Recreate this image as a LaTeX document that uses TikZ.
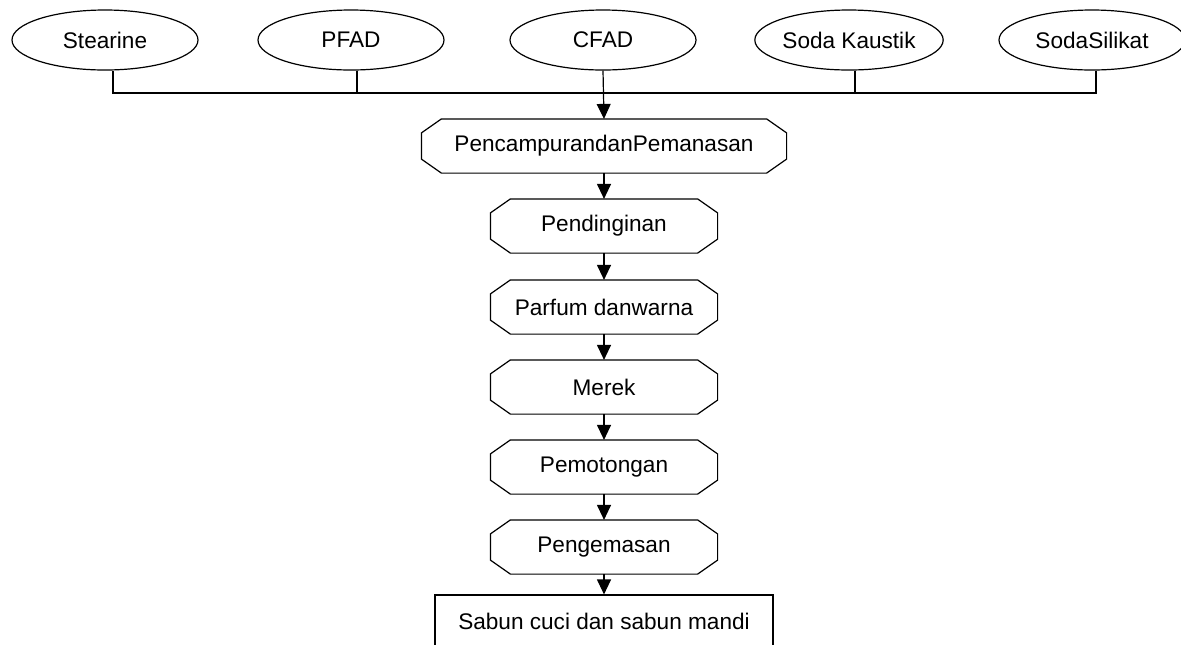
\documentclass[tikz,border=0pt]{standalone}
\usepackage{fontspec}
\setmainfont{Liberation Sans}
\usetikzlibrary{shapes.geometric, arrows.meta}

\begin{document}
\begin{tikzpicture}[x=0.5pt, y=-0.5pt, line width=0.6pt,
        bahan/.style={draw, ellipse, minimum width=93pt, minimum height=30pt, inner sep=0pt, font=\fontsize{11.3}{13}\selectfont},
        proses/.style={rectangle, minimum width=113pt, minimum height=26.5pt, inner sep=0pt, font=\fontsize{11.3}{13}\selectfont},
        hasil/.style={draw, rectangle, minimum width=169pt, minimum height=26pt, inner sep=0pt, font=\fontsize{11.3}{13}\selectfont},
        alur/.style={-{Triangle[length=7.5pt, width=7pt]}}]
        \useasboundingbox (0,0) rectangle (1181,644);

        % Draw the raw materials
        \node[bahan] (st) at (105,40) {Stearine};
        \node[bahan] (pf) at (351,40) {PFAD};
        \node[bahan] (cf) at (603,40) {CFAD};
        \node[bahan] (sk) at (849,40) {Soda Kaustik};
        \node[bahan] (ss) at (1092,40) {SodaSilikat};

        % Draw the process steps
        \node[proses, minimum width=182pt] (p1) at (604,146) {PencampurandanPemanasan};
        \node[proses] (p2) at (604,226) {Pendinginan};
        \node[proses] (p3) at (604,307) {Parfum danwarna};
        \node[proses] (p4) at (604,387) {Merek};
        \node[proses] (p5) at (604,467) {Pemotongan};
        \node[proses] (p6) at (604,547) {Pengemasan};

        % Cut the corners of the steps
        \foreach \p in {p1,p2,p3,p4,p5,p6} {
            \draw ([xshift=10pt]\p.north west) -- ([xshift=-10pt]\p.north east)
                -- ([yshift=-7pt]\p.north east) -- ([yshift=7pt]\p.south east)
                -- ([xshift=-10pt]\p.south east) -- ([xshift=10pt]\p.south west)
                -- ([yshift=7pt]\p.south west) -- ([yshift=-7pt]\p.north west) -- cycle;
        }

        % Draw the product
        \node[hasil] (hs) at (604,621) {Sabun cuci dan sabun mandi};

        % Collect the materials
        \coordinate (bar) at (0,93);
        \draw ([xshift=4pt]st.south) |- ([xshift=2pt]ss.south |- bar) -- ([xshift=2pt]ss.south);
        \foreach \b in {pf,sk} {
            \draw ([xshift=3pt]\b.south) -- ([xshift=3pt]\b.south |- bar);
        }
        \draw[alur] (cf.south) -- (p1.north);

        % Connect the steps
        \foreach \a/\b in {p1/p2,p2/p3,p3/p4,p4/p5,p5/p6,p6/hs} {
            \draw[alur] (\a.south) -- (\b.north);
        }
    \end{tikzpicture}
\end{document}
